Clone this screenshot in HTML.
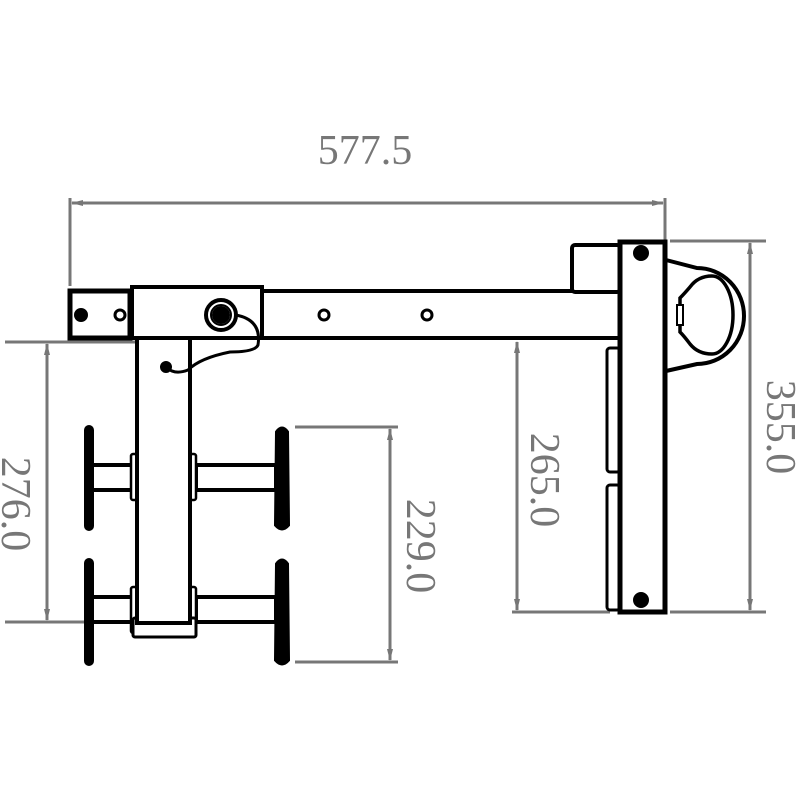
<!DOCTYPE html>
<html><head><meta charset="utf-8"><style>html,body{margin:0;padding:0;background:#fff}svg{display:block}</style></head>
<body>
<svg width="800" height="800" viewBox="0 0 800 800" xmlns="http://www.w3.org/2000/svg">
<defs>
<marker id="a" markerWidth="12" markerHeight="8" refX="11" refY="4" orient="auto-start-reverse" markerUnits="userSpaceOnUse"><path d="M0,1 L12,4 L0,7 Z" fill="#777"/></marker>
</defs>
<g stroke="#777" stroke-width="3" fill="none">
<line x1="72" y1="203" x2="663" y2="203" marker-start="url(#a)" marker-end="url(#a)"/>
<line x1="70" y1="198" x2="70" y2="286"/>
<line x1="665" y1="198" x2="665" y2="240"/>
<line x1="750" y1="243" x2="750" y2="610" marker-start="url(#a)" marker-end="url(#a)"/>
<line x1="670" y1="241" x2="766" y2="241"/>
<line x1="670" y1="612" x2="766" y2="612"/>
<line x1="517" y1="342" x2="517" y2="610" marker-start="url(#a)" marker-end="url(#a)"/>
<line x1="512" y1="612" x2="610" y2="612"/>
<line x1="390" y1="429" x2="390" y2="660" marker-start="url(#a)" marker-end="url(#a)"/>
<line x1="295" y1="427" x2="398" y2="427"/>
<line x1="295" y1="662" x2="398" y2="662"/>
<line x1="47" y1="344" x2="47" y2="620" marker-start="url(#a)" marker-end="url(#a)"/>
<line x1="5" y1="342" x2="135" y2="342"/>
<line x1="5" y1="622" x2="135" y2="622"/>
</g>
<g fill="#777" font-family="Liberation Serif, serif" font-size="42">
<text x="365" y="164" text-anchor="middle">577.5</text>
<text transform="translate(15,504) rotate(90)" text-anchor="middle" dominant-baseline="central">276.0</text>
<text transform="translate(420,546) rotate(90)" text-anchor="middle" dominant-baseline="central">229.0</text>
<text transform="translate(544,480) rotate(90)" text-anchor="middle" dominant-baseline="central">265.0</text>
<text transform="translate(780,427) rotate(90)" text-anchor="middle" dominant-baseline="central">355.0</text>
</g>
<g stroke="#000" stroke-width="4" fill="#fff">
<g>
<rect x="92" y="465" width="40" height="25"/>
<rect x="196" y="465" width="80" height="25"/>
<rect x="92" y="597" width="40" height="25"/>
<rect x="196" y="597" width="80" height="25"/>
<rect x="86" y="427" width="6" height="102" rx="3" fill="#000"/>
<rect x="86" y="560" width="6" height="104" rx="3" fill="#000"/>
<path d="M277,432 Q282,425 287,432 L288,525 Q282,532 276,525 Z" fill="#000"/>
<path d="M277,564 Q282,557 287,564 L288,660 Q282,667 276,660 Z" fill="#000"/>
<rect x="131" y="454" width="6" height="46" rx="2" stroke-width="2.5"/>
<rect x="190" y="454" width="6" height="46" rx="2" stroke-width="2.5"/>
<rect x="131" y="587" width="6" height="46" rx="2" stroke-width="2.5"/>
<rect x="190" y="587" width="6" height="46" rx="2" stroke-width="2.5"/>
</g>
<rect x="133" y="618" width="63" height="19" rx="2" stroke-width="3"/>
<rect x="137" y="338" width="53" height="285"/>
<rect x="70" y="291" width="550" height="47"/>
<rect x="70" y="291" width="60" height="47" stroke-width="5"/>
<rect x="132" y="287" width="130" height="51"/>
<circle cx="81" cy="315" r="5" fill="#000"/>
<circle cx="120" cy="315" r="5" stroke-width="3"/>
<circle cx="324" cy="315" r="5" stroke-width="3"/>
<circle cx="427" cy="315" r="5" stroke-width="3"/>
<circle cx="221" cy="315" r="15" stroke-width="4"/>
<circle cx="221" cy="315" r="10" stroke-width="2"/>
<circle cx="221" cy="315" r="7" fill="#000"/>
<path d="M236,315 Q262,320 258,345 Q255,352 230,352 Q200,358 188,370 Q175,375 167,368" fill="none" stroke-width="3"/>
<circle cx="166" cy="367" r="4" fill="#000"/>
<rect x="572" y="245" width="48" height="47" rx="3"/>
<rect x="607" y="348" width="13" height="124" rx="3" stroke-width="3"/>
<rect x="607" y="485" width="13" height="125" rx="3" stroke-width="3"/>
<path d="M666,260 L697,268 A47,48 0 0 1 697,364 L666,371" stroke-width="4"/>
<path d="M690,287 Q698,276 712,276 A21,39 0 0 1 712,354 Q698,354 690,344 Q684,336 680,332 L680,298 Q684,294 690,287 Z" stroke-width="3.5"/>
<rect x="677" y="305" width="6" height="20" stroke-width="2"/>
<rect x="620" y="242" width="45" height="370" stroke-width="5"/>
<circle cx="641" cy="253" r="6" fill="#000"/>
<circle cx="641" cy="600" r="6" fill="#000"/>
</g>
</svg>
</body></html>
